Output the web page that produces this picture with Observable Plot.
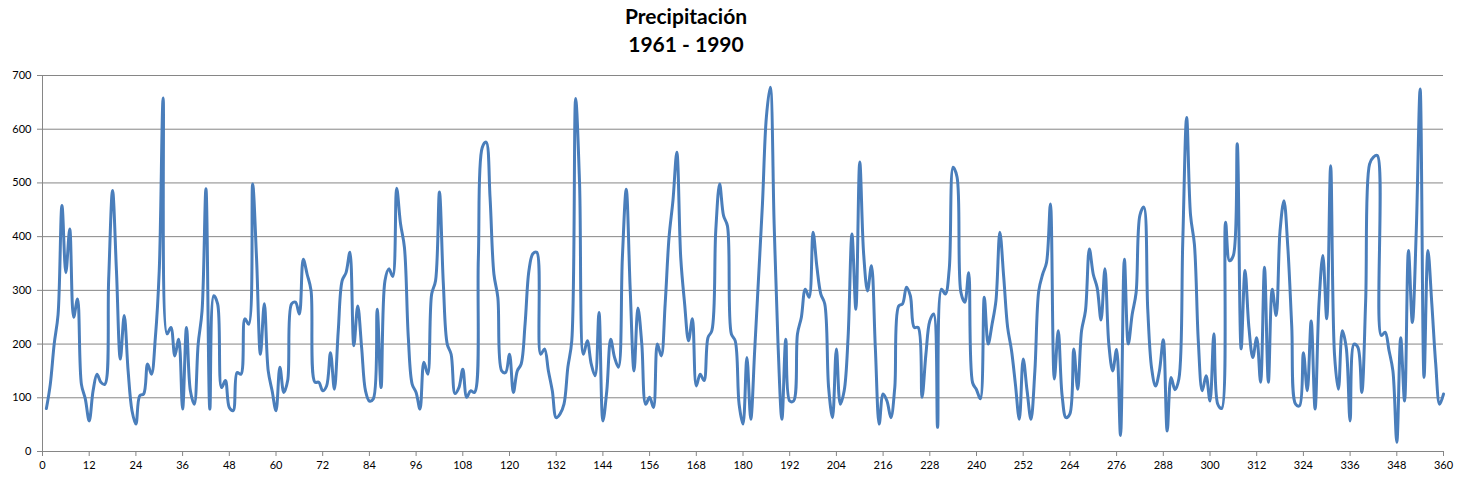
<!DOCTYPE html>
<html>
<head>
<meta charset="utf-8">
<script src="https://cdn.jsdelivr.net/npm/d3@7"></script>
<script src="https://cdn.jsdelivr.net/npm/@observablehq/plot@0.6"></script>
<style>
  html, body { margin: 0; padding: 0; background: #ffffff; }
  #title { width: 1372px; height: 60px; box-sizing: border-box; padding-top: 2px; text-align: center;
           font-family: Lato, "Open Sans", sans-serif; font-weight: bold; font-size: 21px; line-height: 28px; color: #000; }
</style>
</head>
<body>
<div id="title"></div>
<div id="chart"></div>
<script>
const titleLines = ["Precipitación", "1961 - 1990"];

// Monthly precipitation, months 1..360 (1961-1990)
const precip = [
  80,125,200,255,458,333,414,250,284,125,98,57,
  113,144,129,125,320,486,337,172,253,150,76,51,
  104,107,163,144,212,337,658,219,231,178,209,79,
  231,113,88,200,262,489,79,290,275,119,132,82,
  76,147,144,247,237,498,360,181,275,150,113,76,
  157,110,132,275,278,256,358,330,300,129,129,113,
  122,184,116,225,318,333,371,197,271,194,113,94,
  98,265,119,318,340,326,490,424,380,212,125,110,
  79,166,144,293,318,483,312,200,181,108,119,153,
  101,113,110,361,566,576,473,330,287,150,147,181,
  110,150,163,237,337,368,371,181,191,150,113,63,
  70,88,157,206,657,500,181,206,163,141,259,57,
  113,209,175,157,360,488,305,150,267,200,88,101,
  82,200,178,275,399,467,557,361,275,206,247,122,
  144,132,212,225,411,498,439,420,219,206,88,51,
  175,60,188,324,461,622,678,424,200,60,209,94,
  94,219,250,302,287,408,343,293,275,119,63,191,
  88,113,212,405,265,539,368,299,346,194,51,107,
  94,63,119,271,275,306,290,231,231,101,181,243,
  256,45,302,293,340,529,511,296,278,333,128,115,
  98,287,200,237,281,408,324,231,188,125,60,172,
  113,60,150,299,330,352,461,135,225,104,63,70,
  191,116,225,262,377,330,305,245,340,200,150,190,
  30,358,200,255,295,440,455,265,155,122,150,208,
  38,138,115,135,390,622,440,385,205,113,141,94,
  219,88,80,427,355,365,573,191,337,231,175,212,
  129,343,129,302,253,411,467,380,234,88,85,184,
  113,243,79,275,365,247,532,180,116,225,194,57,
  200,194,110,281,535,548,551,216,222,188,150,17,
  212,94,374,240,410,675,138,374,275,163,88,107
];

const xTicks = [0,12,24,36,48,60,72,84,96,108,120,132,144,156,168,180,192,204,216,228,240,252,264,276,288,300,312,324,336,348,360];
const yTicks = [0,100,200,300,400,500,600,700];

document.getElementById("title").innerHTML = titleLines.map(t => `<div>${t}</div>`).join("");

const data = precip.map((v, i) => ({month: i + 1, value: v}));

const chart = Plot.plot({
  width: 1459,
  height: 430,
  marginTop: 15,
  marginBottom: 39,
  marginLeft: 42,
  marginRight: 16,
  style: {fontFamily: "Lato, 'Open Sans', sans-serif", fontSize: "11px", color: "#000", background: "#ffffff"},
  x: {domain: [0, 360], label: null},
  y: {domain: [0, 700], label: null},
  marks: [
    Plot.gridY(yTicks.filter(d => d > 0), {stroke: "#868686", strokeOpacity: 1}),
    Plot.ruleY([0], {stroke: "#868686"}),
    Plot.ruleX([0], {stroke: "#868686"}),
    Plot.axisY(yTicks, {tickSize: 5, tickPadding: 6, stroke: "#868686", fill: "#000"}),
    Plot.axisX(xTicks, {tickSize: 5, tickPadding: 5, stroke: "#868686", fill: "#000"}),
    Plot.line(data, {x: "month", y: "value", stroke: "#4a7ebb", strokeWidth: 3, curve: "catmull-rom"})
  ]
});
document.getElementById("chart").appendChild(chart);
</script>
</body>
</html>
